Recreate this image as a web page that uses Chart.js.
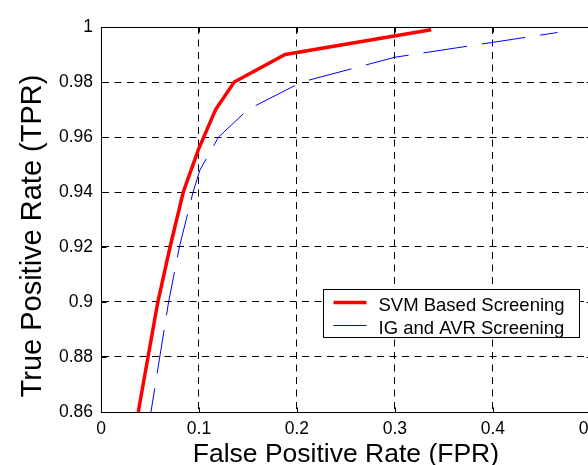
<!DOCTYPE html>
<html>
<head>
<meta charset="utf-8">
<title>ROC curves</title>
<script src="https://cdn.jsdelivr.net/npm/chart.js@4.4.1/dist/chart.umd.min.js"></script>
<style>
  html, body { margin: 0; padding: 0; overflow: hidden; background: #fff; }
  canvas { display: block; }
</style>
</head>
<body>
<canvas id="rocChart" width="610" height="470"></canvas>
<script>
// ROC points (FPR on x, TPR on y)
const svmFpr = [0.038, 0.048, 0.058, 0.0705, 0.084, 0.0995, 0.117, 0.136, 0.188, 0.337];
const svmTpr = [0.86, 0.88, 0.90, 0.92, 0.94, 0.9555, 0.97, 0.98, 0.99, 0.999];
const igFpr = [0.051, 0.06, 0.069, 0.08, 0.094, 0.101, 0.12, 0.15, 0.205, 0.3, 0.466];
const igTpr = [0.86, 0.88, 0.90, 0.92, 0.94, 0.948, 0.96, 0.97, 0.98, 0.989, 0.998];
const seriesNames = ['SVM Based Screening', 'IG and AVR Screening'];
const xTicks = [0, 0.1, 0.2, 0.3, 0.4, 0.5];
const xTickLabels = ['0', '0.1', '0.2', '0.3', '0.4', '0.5'];
const yTicks = [0.86, 0.88, 0.9, 0.92, 0.94, 0.96, 0.98, 1];
const yTickLabels = ['0.86', '0.88', '0.9', '0.92', '0.94', '0.96', '0.98', '1'];
const xTitle = 'False Positive Rate (FPR)';
const yTitle = 'True Positive Rate (TPR)';

const FONT = '"Liberation Sans", Arial, Helvetica, sans-serif';

function toPoints(xs, ys) {
  return xs.map((x, i) => ({x: x, y: ys[i]}));
}

// solid box round the plot + inward tick marks, matlab style
const frame = {
  id: 'frame',
  afterDatasetsDraw(chart) {
    const {ctx, chartArea: a, scales: {x, y}} = chart;
    const L = Math.round(a.left) + 0.5, R = Math.round(a.right) + 0.5;
    const T = Math.round(a.top) + 0.5, B = Math.round(a.bottom) + 0.5;
    ctx.save();
    ctx.strokeStyle = '#000';
    ctx.lineWidth = 1;
    ctx.setLineDash([]);
    ctx.beginPath();
    ctx.moveTo(L, T); ctx.lineTo(R, T); ctx.lineTo(R, B); ctx.lineTo(L, B); ctx.closePath();
    xTicks.forEach(v => {
      const px = Math.round(x.getPixelForValue(v)) + 0.5;
      ctx.moveTo(px, B); ctx.lineTo(px, B - 5);
      ctx.moveTo(px, T); ctx.lineTo(px, T + 5);
    });
    yTicks.forEach(v => {
      const py = Math.round(y.getPixelForValue(v)) + 0.5;
      ctx.moveTo(L, py); ctx.lineTo(L + 5, py);
      ctx.moveTo(R, py); ctx.lineTo(R - 5, py);
    });
    ctx.stroke();
    ctx.restore();
  }
};

// legend box inside the plot, lower right
const boxLegend = {
  id: 'boxLegend',
  afterDatasetsDraw(chart) {
    const {ctx, chartArea: a} = chart;
    const w = 256, h = 48;
    const left = Math.round(a.right - 12 - w) + 0.5;
    const top = Math.round(a.bottom - 75 - h) + 0.5;
    ctx.save();
    ctx.fillStyle = '#fff';
    ctx.fillRect(left, top, w, h);
    ctx.strokeStyle = '#000';
    ctx.lineWidth = 1;
    ctx.strokeRect(left, top, w, h);
    ctx.font = '18.5px ' + FONT;
    ctx.textAlign = 'left';
    ctx.textBaseline = 'alphabetic';
    chart.data.datasets.forEach((ds, i) => {
      const rowY = top + 13 + i * 23;
      ctx.strokeStyle = ds.borderColor;
      ctx.lineWidth = ds.borderWidth;
      ctx.beginPath();
      ctx.moveTo(left + 10, rowY);
      ctx.lineTo(left + 43, rowY);
      ctx.stroke();
      ctx.fillStyle = '#000';
      ctx.fillText(ds.label, left + 55, rowY + 8);
    });
    ctx.restore();
  }
};

// y title drawn by hand so it can sit a bit lower than centre
const yTitlePlugin = {
  id: 'yTitle',
  afterDraw(chart) {
    const ctx = chart.ctx;
    ctx.save();
    ctx.translate(33, 236);
    ctx.rotate(-Math.PI / 2);
    ctx.font = '29px ' + FONT;
    ctx.fillStyle = '#000';
    ctx.textAlign = 'center';
    ctx.textBaseline = 'middle';
    ctx.fillText(yTitle, 0, 0);
    ctx.restore();
  }
};

const ctx = document.getElementById('rocChart').getContext('2d');
new Chart(ctx, {
  type: 'line',
  data: {
    datasets: [{
      label: seriesNames[0],
      data: toPoints(svmFpr, svmTpr),
      borderColor: '#ff0000',
      borderWidth: 3.5,
      pointRadius: 0,
      tension: 0,
      fill: false
    }, {
      label: seriesNames[1],
      data: toPoints(igFpr, igTpr),
      borderColor: '#0000ff',
      borderWidth: 1,
      borderDash: [44, 15],
      borderDashOffset: 20,
      pointRadius: 0,
      tension: 0,
      fill: false
    }]
  },
  options: {
    responsive: false,
    devicePixelRatio: 1,
    animation: false,
    layout: {padding: {top: 27, right: 0, bottom: 0, left: 0}},
    plugins: {
      legend: {display: false},
      tooltip: {enabled: false}
    },
    scales: {
      x: {
        type: 'linear',
        min: 0,
        max: 0.5,
        afterBuildTicks: s => { s.ticks = xTicks.map(v => ({value: v})); },
        afterFit: s => { s.height = 58; },
        ticks: {
          callback: (v, i) => xTickLabels[i],
          font: {family: FONT, size: 17.5},
          color: '#000',
          padding: 7,
          maxRotation: 0,
          autoSkip: false
        },
        grid: {color: '#000', lineWidth: 1, drawTicks: false},
        border: {display: true, color: '#000', width: 1, dash: [7, 5.5]},
        title: {
          display: true,
          text: xTitle,
          font: {family: FONT, size: 26.5, lineHeight: 1},
          color: '#000',
          padding: {top: 0, bottom: 2}
        }
      },
      y: {
        type: 'linear',
        min: 0.86,
        max: 1,
        afterBuildTicks: s => { s.ticks = yTicks.map(v => ({value: v})); },
        afterFit: s => { s.width = 101; },
        ticks: {
          callback: (v, i) => yTickLabels[i],
          font: {family: FONT, size: 17.5},
          color: '#000',
          padding: 8,
          autoSkip: false
        },
        grid: {color: '#000', lineWidth: 1, drawTicks: false},
        border: {display: true, color: '#000', width: 1, dash: [7, 5.5]},
        title: {display: false}
      }
    }
  },
  plugins: [frame, boxLegend, yTitlePlugin]
});
</script>
</body>
</html>
